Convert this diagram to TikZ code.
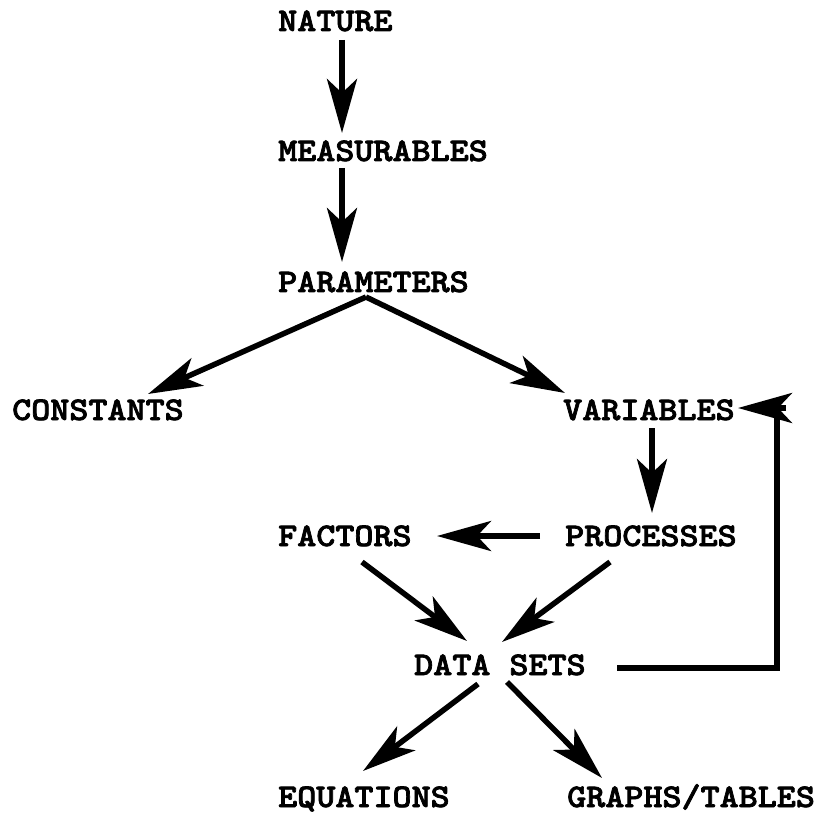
\documentclass[tikz,border=0pt]{standalone}
\usepackage{fontspec}
\usetikzlibrary{arrows.meta,calc}
% slab-serif typewriter face, widened to a typewriter pitch and inked heavier
\newfontfamily\typewr{lmmonolt10-bold}[Extension=.otf,FakeStretch=1.1,FakeBold=2.2]
\begin{document}
\begin{tikzpicture}[x=1pt,y=-1pt,
  lbl/.style={inner sep=0pt,anchor=west,text height=20pt,text depth=0pt,
              font=\typewr\fontsize{33pt}{34pt}\selectfont},
  link/.style={line width=5.5pt},
  arr/.style={link,-{Stealth[length=54pt,width=30pt,inset=14pt]}}]
\useasboundingbox (0,0) rectangle (820,813);

% labels, left-aligned like typed text
\node[lbl] (nat)  at (278,21)  {NATURE};
\node[lbl] (meas) at (278,151) {MEASURABLES};
\node[lbl] (par)  at (278,282) {PARAMETERS};
\node[lbl] (con)  at (12,410)  {CONSTANTS};
\node[lbl] (var)  at (563,410) {VARIABLES};
\node[lbl] (fac)  at (278,536) {FACTORS};
\node[lbl] (pro)  at (565,536) {PROCESSES};
\node[lbl] (ds)   at (414,665) {DATA SETS};
\node[lbl] (eq)   at (278,797) {EQUATIONS};
\node[lbl] (gt)   at (567,797) {GRAPHS/TABLES};

% main chain
\draw[arr] ($(nat.west)+(64,19)$)  -- ($(meas.west)+(64,-18)$);
\draw[arr] ($(meas.west)+(64,17)$) -- ($(par.west)+(64,-20)$);
\draw[arr] ($(par.west)+(88,15)$)  -- ($(con.west)+(136,-16)$);
\draw[arr] ($(par.west)+(88,15)$)  -- ($(var.west)+(2,-17)$);
\draw[arr] ($(var.west)+(89,18)$)  -- ($(pro.west)+(87,-23)$);
\draw[arr] ($(pro.west)+(-25,0)$)  -- ($(fac.west)+(159,0)$);
\draw[arr] ($(fac.west)+(84,26)$)  -- ($(ds.west)+(53,-24)$);
\draw[arr] ($(pro.west)+(45,26)$)  -- ($(ds.west)+(88,-23)$);
\draw[arr] ($(ds.west)+(64,19)$)   -- ($(eq.west)+(85,-26)$);
\draw[arr] ($(ds.west)+(93,17)$)   -- ($(gt.west)+(35,-19)$);

% feedback loop from DATA SETS back to VARIABLES
\coordinate (fbtop)  at (777,408);
\coordinate (fbhead) at (786,408);
\draw[link] ($(ds.west)+(203,3)$) -| (fbtop);
\draw[arr] (fbhead) -- ($(var.west)+(175,-2)$);
\end{tikzpicture}
\end{document}
